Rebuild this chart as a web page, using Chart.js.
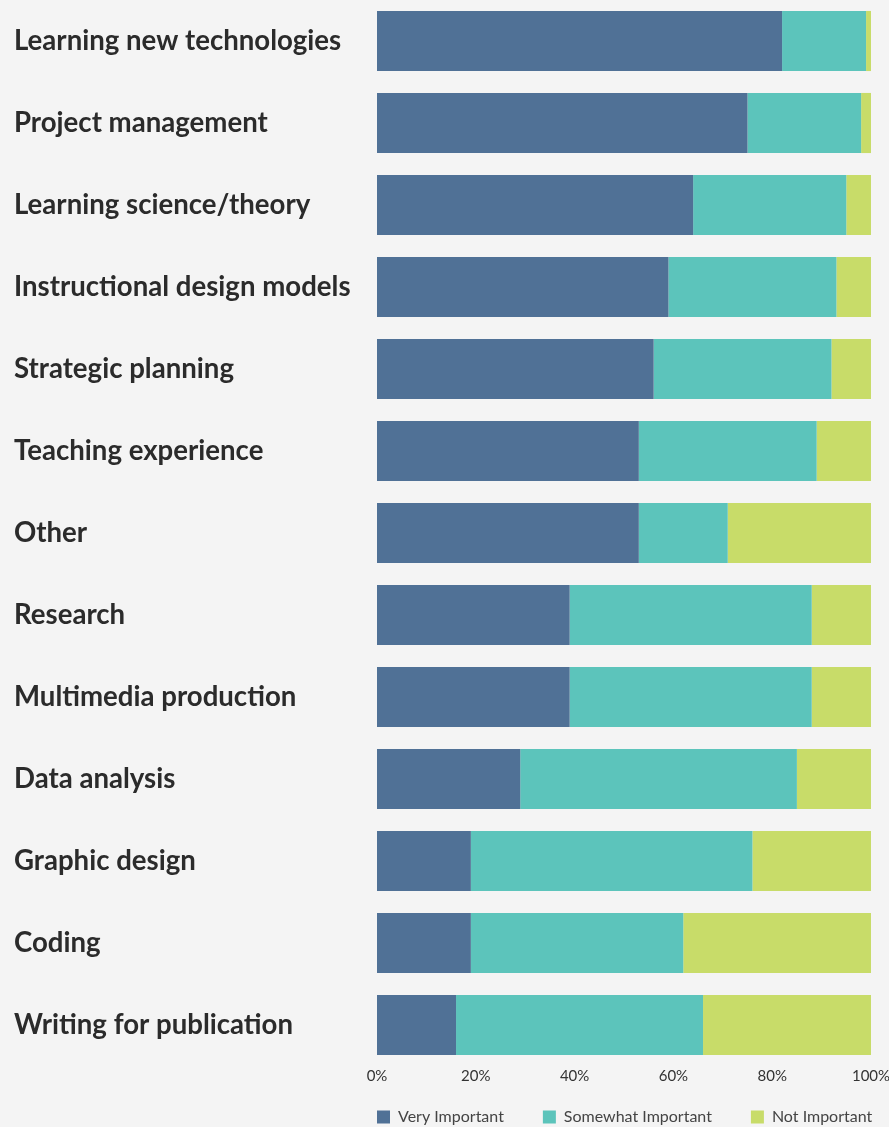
<!DOCTYPE html>
<html>
<head>
    <meta charset="utf-8" />
    <title>Skills importance</title>
    <script src="https://cdn.jsdelivr.net/npm/chart.js@4"></script>
    <style>
        html, body { margin: 0; padding: 0; background: #f4f4f4; }
        #wrap { width: 889px; height: 1127px; position: relative; }
    </style>
</head>
<body>
    <div id="wrap"><canvas id="skillsChart"></canvas></div>

    <script>
        // Categories, top to bottom
        const skills = [
            'Learning new technologies', 'Project management', 'Learning science/theory',
            'Instructional design models', 'Strategic planning', 'Teaching experience',
            'Other', 'Research', 'Multimedia production', 'Data analysis',
            'Graphic design', 'Coding', 'Writing for publication'
        ];
        // Percent of respondents per answer
        const veryImportant     = [82, 75, 64, 59, 56, 53, 53, 39, 39, 29, 19, 19, 16];
        const somewhatImportant = [17, 23, 31, 34, 36, 36, 18, 49, 49, 56, 57, 43, 50];
        const notImportant      = [ 1,  2,  5,  7,  9, 12, 29, 12, 12, 15, 24, 38, 34];
        const xTicks = [0, 20, 40, 60, 80, 100];

        // Put the legend under the plot area, near the bottom edge, on one line
        const legendUnderPlot = {
            id: 'legendUnderPlot',
            afterLayout(chart) {
                const lg = chart.legend;
                const pad = lg.options.labels.padding;
                lg.left = chart.chartArea.left - pad;
                lg.right = chart.width + pad;
                lg.top = chart.height - 10 - 8 - pad;
            }
        };

        const ctx = document.getElementById('skillsChart').getContext('2d');

        new Chart(ctx, {
            type: 'bar',
            data: {
                labels: skills,
                datasets: [
                    { label: 'Very Important', data: veryImportant, backgroundColor: '#507196' },
                    { label: 'Somewhat Important', data: somewhatImportant, backgroundColor: '#5cc4bb' },
                    { label: 'Not Important', data: notImportant, backgroundColor: '#c8dc69' },
                ],
            },
            plugins: [legendUnderPlot],
            options: {
                indexAxis: 'y',
                responsive: true,
                maintainAspectRatio: false,
                animation: false,
                categoryPercentage: 1,
                barPercentage: 0.733,
                layout: { padding: { left: 14, right: 18, top: 0, bottom: -24 } },
                plugins: {
                    tooltip: { enabled: false },
                    legend: {
                        position: 'bottom',
                        align: 'start',
                        fullSize: true,
                        labels: {
                            boxWidth: 13,
                            boxHeight: 13,
                            padding: 39,
                            color: '#444',
                            font: { family: 'Lato', size: 16 },
                        },
                    },
                },
                scales: {
                    x: {
                        stacked: true,
                        min: 0,
                        max: 100,
                        afterBuildTicks: scale => { scale.ticks = xTicks.map(v => ({ value: v })); },
                        afterFit: scale => {
                            scale.paddingLeft = 0;
                            scale.paddingRight = 0;
                        },
                        grid: { display: false, drawTicks: false },
                        border: { display: false },
                        ticks: {
                            padding: 1,
                            maxRotation: 0,
                            color: '#333',
                            font: { family: 'Lato', size: 15 },
                            callback: v => v + '%',
                        },
                    },
                    y: {
                        stacked: true,
                        afterFit: scale => {
                            scale.width = 363;
                            scale.paddingTop = 0;
                            scale.paddingBottom = 0;
                        },
                        grid: { display: false, drawTicks: false },
                        border: { display: false },
                        ticks: {
                            crossAlign: 'far',
                            color: '#2b2b2b',
                            font: { family: 'Lato', size: 27.6, weight: 'bold' },
                        },
                    },
                },
            },
        });
    </script>
</body>
</html>
